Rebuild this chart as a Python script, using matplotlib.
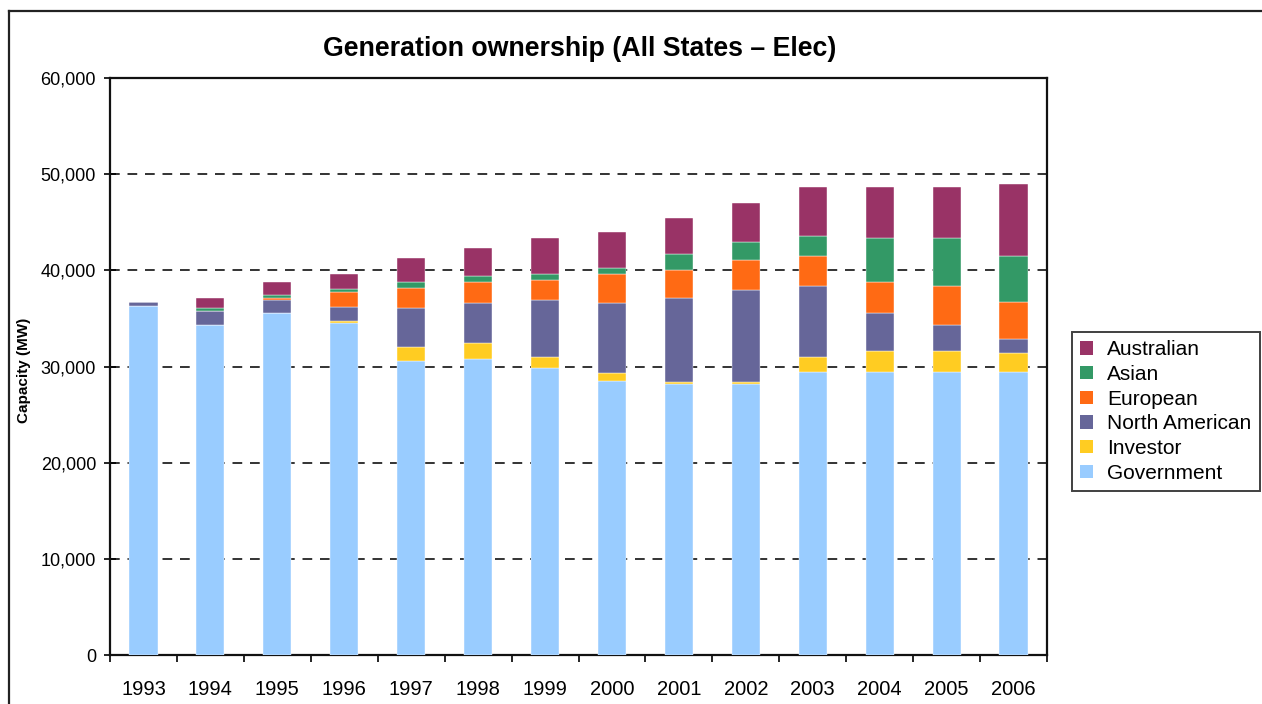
import matplotlib
matplotlib.use("Agg")
import matplotlib.pyplot as plt
import numpy as np
from matplotlib.lines import Line2D
from matplotlib.patches import Patch

plt.rcParams['font.family'] = ['Liberation Sans', 'DejaVu Sans']

years = ['1993', '1994', '1995', '1996', '1997', '1998', '1999', '2000',
         '2001', '2002', '2003', '2004', '2005', '2006']
government = [36300, 34350, 35600, 34550, 30550, 30730, 29830, 28540, 28160, 28160, 29410, 29410, 29410, 29410]
investor = [0, 0, 0, 200, 1500, 1730, 1140, 835, 200, 200, 1560, 2190, 2190, 1980]
north_american = [400, 1450, 1280, 1450, 4000, 4170, 5900, 7255, 8715, 9550, 7360, 3990, 2740, 1490]
european = [0, 0, 250, 1500, 2100, 2120, 2125, 2990, 2955, 3165, 3160, 3160, 3990, 3790]
asian = [0, 250, 350, 400, 600, 625, 620, 620, 1700, 1910, 2110, 4650, 5070, 4820]
australian = [0, 1050, 1290, 1500, 2550, 2950, 3780, 3790, 3750, 3990, 5080, 5280, 5280, 7470]

series_names = ['Government', 'Investor', 'North American', 'European', 'Asian', 'Australian']
series_vals = [government, investor, north_american, european, asian, australian]
colors = ['#99CCFF', '#FFCC22', '#666699', '#FF6A14', '#339966', '#993366']

W, H = 1262, 704
fig = plt.figure(figsize=(W / 100, H / 100), dpi=100)
ax = fig.add_axes([110 / W, 1 - 655 / H, (1047 - 110) / W, (655 - 78) / H])

x = np.arange(len(years))
bottom = np.zeros(len(years))
for name, vals, c in zip(series_names, series_vals, colors):
    v = np.array(vals, dtype=float)
    ax.bar(x, v, width=0.42, bottom=bottom, color=c, label=name,
           edgecolor='white', linewidth=0.3, zorder=3)
    bottom += v

ax.set_xlim(-0.5, len(years) - 0.5)
ax.set_ylim(0, 60000)
ax.set_yticks(np.arange(0, 60001, 10000))
ax.set_yticklabels([f'{v:,}' for v in range(0, 60001, 10000)], fontsize=13)
ax.yaxis.grid(True, linestyle=(0, (5, 4)), color='#333333', linewidth=1.4, zorder=1)
ax.set_axisbelow(True)

ax.set_xticks(x)
ax.set_xticklabels(years, fontsize=14.5)
ax.tick_params(axis='x', which='major', length=0, pad=18)
ax.set_xticks(np.arange(-0.5, len(years), 1.0), minor=True)
ax.tick_params(axis='x', which='minor', length=5, width=1.2, direction='out')
ax.tick_params(axis='y', length=8, width=1.2, direction='inout', pad=6)

for s in ax.spines.values():
    s.set_linewidth(1.6)
    s.set_color('#111111')

fig.text(580 / W, 1 - 49 / H, 'Generation ownership (All States \u2013 Elec)',
         fontsize=19.3, fontweight='bold', ha='center', va='center')
fig.text(24 / W, 1 - 370 / H, 'Capacity (MW)', fontsize=11, fontweight='bold',
         rotation=90, ha='center', va='center')

handles = [Patch(facecolor=c, edgecolor='none') for c in colors][::-1]
labels = series_names[::-1]
leg = fig.legend(handles, labels, loc='center left',
                 bbox_to_anchor=(1072 / W, 1 - 411.5 / H), fontsize=15,
                 frameon=True, fancybox=False, handlelength=0.6, handleheight=0.6,
                 handletextpad=0.7, labelspacing=0.27, borderpad=0.4,
                 borderaxespad=0)
leg.get_frame().set_edgecolor('#111111')
leg.get_frame().set_linewidth(1.4)

# outer frame
fig.add_artist(Line2D([9 / W, 9 / W], [0, 1 - 11 / H], transform=fig.transFigure,
                      color='#222222', linewidth=1.6))
fig.add_artist(Line2D([9 / W, 1], [1 - 11 / H, 1 - 11 / H], transform=fig.transFigure,
                      color='#222222', linewidth=1.6))

fig.savefig('out.png', dpi=100)
